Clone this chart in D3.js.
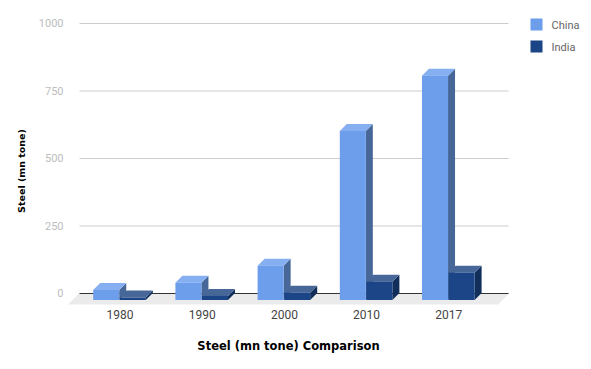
<!DOCTYPE html>
<html>
<head>
<meta charset="utf-8">
<script src="https://cdn.jsdelivr.net/npm/d3@7"></script>
<style>
body { margin: 0; background: #fff; }
svg { display: block; }
</style>
</head>
<body>
<div id="chart-area"></div>
<script>
var years = ["1980", "1990", "2000", "2010", "2017"];
var seriesNames = ["China", "India"];
var china = [37, 64, 127, 626, 831];
var india = [9, 15, 27, 68, 101];
var yTicks = [0, 250, 500, 750, 1000];

var colors = {
  China: {front: "#6d9eeb", top: "#85aff0", side: "#466798"},
  India: {front: "#1c4587", top: "#466798", side: "#122f5c"}
};
var depth = 7;

var svg = d3.select("#chart-area")
  .append("svg")
    .attr("width", 591)
    .attr("height", 369);

// y is the back wall, the bars sit "depth" px in front of it
var y = d3.scaleLinear().domain([0, 1000]).range([293, 23]);
var x = d3.scaleBand().domain(years).range([78.4, 489.4]).paddingInner(0.36).paddingOuter(0.18);
var x1 = d3.scaleBand().domain(seriesNames).range([0, x.bandwidth()]).paddingInner(0.02);

// floor
var floorBack = 293.5, floorFront = 304.5;
svg.append("path")
  .attr("d", "M79," + floorBack + "L509," + floorBack + "L498," + floorFront + "L68," + floorFront + "Z")
  .attr("fill", "#ebebeb");

// gridlines and tick labels
var yAxisCall = d3.axisLeft(y).tickValues(yTicks).tickSize(-429).tickPadding(16).tickFormat(d3.format("d"));
var yAxisGroup = svg.append("g")
  .attr("transform", "translate(79.5,0)")
  .call(yAxisCall);
yAxisGroup.select(".domain").remove();
yAxisGroup.selectAll("line").attr("stroke", "#cccccc");
yAxisGroup.selectAll("line").filter(function(d) { return d === 0; }).attr("stroke", "#333333");
yAxisGroup.selectAll("text")
  .attr("fill", "#bdbdbd")
  .attr("font-family", "Roboto")
  .attr("font-size", "11px");

function drawBar(g, name, year, value) {
  var c = colors[name];
  var x0 = x(year) + x1(name);
  var w = x1.bandwidth();
  var base = y(0) + depth;
  var top = y(value) + depth;
  g.append("path")
    .attr("d", "M" + (x0 + w) + "," + top + "l" + depth + "," + (-depth) + "L" + (x0 + w + depth) + "," + (base - depth) + "L" + (x0 + w) + "," + base + "Z")
    .attr("fill", c.side);
  g.append("path")
    .attr("d", "M" + x0 + "," + top + "l" + depth + "," + (-depth) + "h" + w + "l" + (-depth) + "," + depth + "Z")
    .attr("fill", c.top);
  g.append("rect")
    .attr("x", x0)
    .attr("y", top)
    .attr("width", w)
    .attr("height", base - top)
    .attr("fill", c.front);
}

var bars = svg.append("g");
years.forEach(function(year, i) {
  drawBar(bars, "China", year, china[i]);
  drawBar(bars, "India", year, india[i]);
});

// category labels
var xAxisCall = d3.axisBottom(x).tickSize(0).tickPadding(0);
var xAxisGroup = svg.append("g")
  .attr("transform", "translate(0.5,310.5)")
  .call(xAxisCall);
xAxisGroup.select(".domain").remove();
xAxisGroup.selectAll("text")
  .attr("fill", "#444444")
  .attr("font-family", "Roboto")
  .attr("font-size", "12px");

// titles
svg.append("text")
  .attr("x", 288.5)
  .attr("y", 349.5)
  .attr("text-anchor", "middle")
  .attr("font-family", "DejaVu Sans")
  .attr("font-weight", "bold")
  .attr("font-size", "11.5px")
  .text("Steel (mn tone) Comparison");
svg.append("text")
  .attr("transform", "translate(25,171) rotate(-90)")
  .attr("text-anchor", "middle")
  .attr("font-family", "DejaVu Sans")
  .attr("font-weight", "bold")
  .attr("font-size", "9.5px")
  .text("Steel (mn tone)");

// legend
seriesNames.forEach(function(name, i) {
  var legendRow = svg.append("g")
    .attr("transform", "translate(530.5," + (18.5 + i * 22) + ")");
  legendRow.append("rect")
    .attr("width", 12)
    .attr("height", 12)
    .attr("fill", colors[name].front);
  legendRow.append("text")
    .attr("x", 21)
    .attr("y", 10)
    .attr("fill", "#666666")
    .attr("font-family", "Roboto")
    .attr("font-size", "11px")
    .text(name);
});
</script>
</body>
</html>
